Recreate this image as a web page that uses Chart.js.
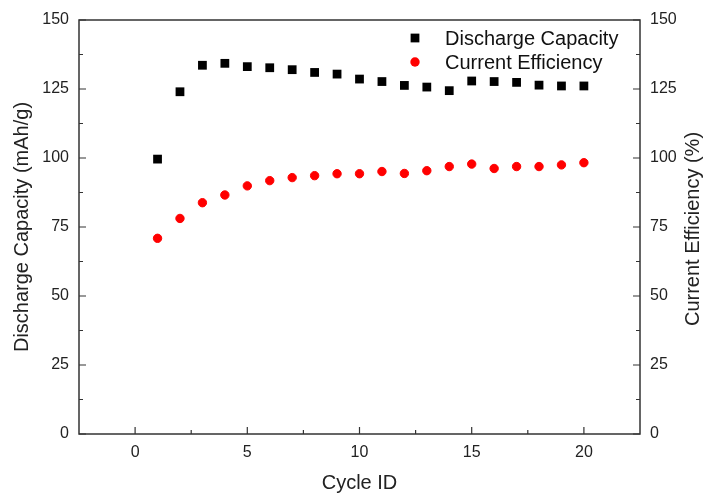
<!DOCTYPE html>
<html>
<head>
<meta charset="utf-8">
<script src="https://cdn.jsdelivr.net/npm/chart.js@4.4.0/dist/chart.umd.min.js"></script>
<style>
  html, body { margin: 0; padding: 0; background: #fff; }
  #wrap { width: 707px; height: 493px; }
</style>
</head>
<body>
<div id="wrap"><canvas id="chart"></canvas></div>
<script>
// --- data ---
const cycles = [1, 2, 3, 4, 5, 6, 7, 8, 9, 10, 11, 12, 13, 14, 15, 16, 17, 18, 19, 20];
const capacity = [99.6, 124.0, 133.6, 134.3, 133.1, 132.7, 132.0, 131.0, 130.4, 128.6,
                  127.7, 126.3, 125.7, 124.4, 127.9, 127.7, 127.4, 126.4, 126.1, 126.1];
const efficiency = [70.9, 78.1, 83.8, 86.6, 89.9, 91.8, 92.9, 93.6, 94.3, 94.3,
                    95.1, 94.4, 95.4, 96.9, 97.8, 96.2, 96.9, 96.9, 97.5, 98.3];
const xTicks = [0, 5, 10, 15, 20];
const xMinor = [2.5, 7.5, 12.5, 17.5];
const yTicks = [0, 25, 50, 75, 100, 125, 150];
const yMinor = [12.5, 37.5, 62.5, 87.5, 112.5, 137.5];
const rightTitle = 'Current Efficiency (%)';

const FONT = "'Liberation Sans', Arial, sans-serif";
const AXIS = '#333';

// frame + inward ticks (Origin style)
const frameTicks = {
  id: 'frameTicks',
  afterDraw(chart) {
    const { ctx, chartArea: a, scales } = chart;
    ctx.save();
    ctx.strokeStyle = AXIS;
    ctx.lineWidth = 1.5;
    ctx.strokeRect(a.left, a.top, a.right - a.left, a.bottom - a.top);
    ctx.lineWidth = 1.2;
    ctx.beginPath();
    const tx = (vals, len) => vals.forEach(v => {
      const px = scales.x.getPixelForValue(v);
      ctx.moveTo(px, a.bottom); ctx.lineTo(px, a.bottom - len);
    });
    const ty = (sc, vals, len, side) => vals.forEach(v => {
      const py = sc.getPixelForValue(v);
      if (side === 'left') { ctx.moveTo(a.left, py); ctx.lineTo(a.left + len, py); }
      else { ctx.moveTo(a.right, py); ctx.lineTo(a.right - len, py); }
    });
    tx(xTicks, 7); tx(xMinor, 4);
    ty(scales.y, yTicks, 7, 'left'); ty(scales.y, yMinor, 4, 'left');
    ty(scales.y2, yTicks, 7, 'right'); ty(scales.y2, yMinor, 4, 'right');
    ctx.stroke();

    // right axis title, reading bottom to top like the left one
    ctx.font = '20px ' + FONT;
    ctx.fillStyle = '#222';
    ctx.textAlign = 'center';
    ctx.textBaseline = 'middle';
    ctx.translate(693, (a.top + a.bottom) / 2 + 2);
    ctx.rotate(-Math.PI / 2);
    ctx.fillText(rightTitle, 0, 0);
    ctx.restore();
  }
};

// legend in the top right of the plot
const innerLegend = {
  id: 'innerLegend',
  afterDraw(chart) {
    const { ctx } = chart;
    const mx = 415, tx = 445, rows = [38, 62];
    ctx.save();
    ctx.font = '20px ' + FONT;
    ctx.textBaseline = 'middle';
    chart.data.datasets.forEach((ds, i) => {
      const y = rows[i];
      ctx.fillStyle = ds.backgroundColor;
      if (ds.pointStyle === 'rect') {
        const s = ds.pointRadius * Math.SQRT1_2;
        ctx.fillRect(mx - s, y - s, 2 * s, 2 * s);
      } else {
        ctx.beginPath(); ctx.arc(mx, y, ds.pointRadius + 0.5, 0, Math.PI * 2); ctx.fill();
      }
      ctx.fillStyle = '#111';
      ctx.fillText(ds.label, tx, y + 1);
    });
    ctx.restore();
  }
};

const tickFont = { family: FONT, size: 16 };
const titleFont = { family: FONT, size: 20, lineHeight: 1 };
const noGrid = { display: false, drawTicks: false };

new Chart(document.getElementById('chart'), {
  type: 'scatter',
  data: {
    datasets: [{
      label: 'Discharge Capacity',
      data: cycles.map((c, i) => ({ x: c, y: capacity[i] })),
      yAxisID: 'y',
      pointStyle: 'rect',
      pointRadius: 6.2,
      backgroundColor: '#000',
      borderColor: '#000',
      borderWidth: 0
    }, {
      label: 'Current Efficiency',
      data: cycles.map((c, i) => ({ x: c, y: efficiency[i] })),
      yAxisID: 'y2',
      pointStyle: 'circle',
      pointRadius: 4.2,
      backgroundColor: '#f00',
      borderColor: '#f00',
      borderWidth: 1
    }]
  },
  options: {
    animation: false,
    responsive: true,
    maintainAspectRatio: false,
    layout: { padding: { top: 20, left: 0, right: 0, bottom: 0 } },
    plugins: { legend: { display: false }, tooltip: { enabled: false } },
    scales: {
      x: {
        type: 'linear', min: -2.5, max: 22.5,
        afterBuildTicks: s => { s.ticks = xTicks.map(v => ({ value: v })); },
        afterFit: s => { s.height = 59; },
        grid: noGrid, border: { display: false },
        ticks: { color: '#222', font: tickFont, padding: 9 },
        title: { display: true, text: 'Cycle ID', color: '#222', font: titleFont, padding: { top: 0, bottom: 0 } }
      },
      y: {
        position: 'left', min: 0, max: 150,
        afterBuildTicks: s => { s.ticks = yTicks.map(v => ({ value: v })); },
        afterFit: s => { s.width = 79; },
        grid: noGrid, border: { display: false },
        ticks: { color: '#222', font: tickFont, padding: 10 },
        title: { display: true, text: 'Discharge Capacity (mAh/g)', color: '#222', font: titleFont, padding: { top: 12, bottom: 0 } }
      },
      y2: {
        position: 'right', min: 0, max: 150,
        afterBuildTicks: s => { s.ticks = yTicks.map(v => ({ value: v })); },
        afterFit: s => { s.width = 67; },
        grid: noGrid, border: { display: false },
        ticks: { color: '#222', font: tickFont, padding: 10 },
        title: { display: false }
      }
    }
  },
  plugins: [frameTicks, innerLegend]
});
</script>
</body>
</html>
